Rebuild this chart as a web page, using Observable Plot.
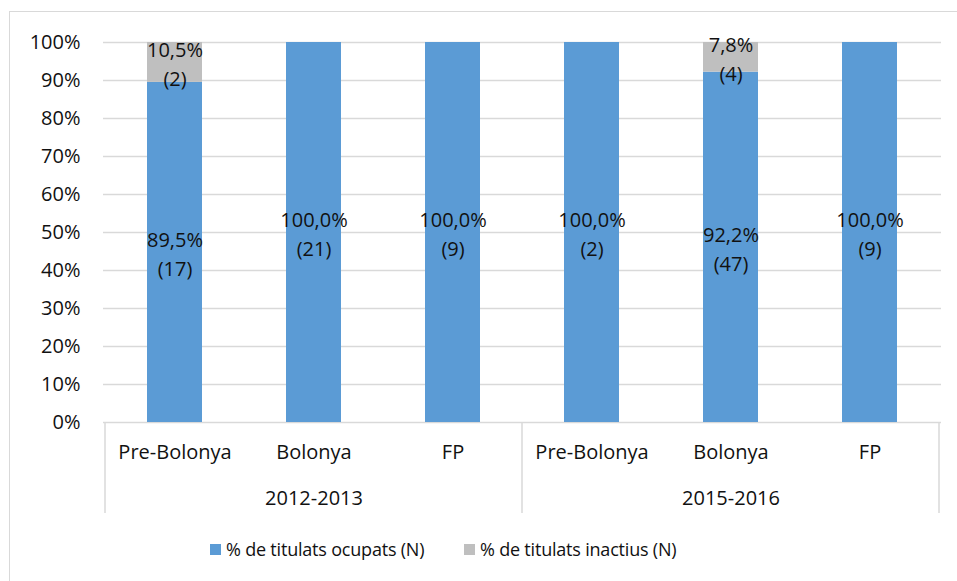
<!DOCTYPE html>
<html>
<head>
<meta charset="utf-8">
<script src="https://cdn.jsdelivr.net/npm/d3@7"></script>
<script src="https://cdn.jsdelivr.net/npm/@observablehq/plot@0.6"></script>
<style>
  html, body { margin: 0; padding: 0; background: #fff; }
  body { width: 957px; height: 581px; position: relative; overflow: hidden; font-family: "Open Sans", sans-serif; }
  #frame { position: absolute; left: 9px; top: 11px; width: 960px; height: 580px; border-left: 1.5px solid #d9d9d9; border-top: 1.5px solid #d9d9d9; }
  #chart { position: absolute; left: 0; top: 0; }
  .leg { position: absolute; top: 537px; font-size: 18px; letter-spacing: -0.2px; color: #111; display: flex; align-items: center; white-space: nowrap; }
  .sw { width: 11px; height: 11px; margin-right: 5px; }
</style>
</head>
<body>
<div id="frame"></div>
<div id="chart"></div>
<div class="leg" style="left:210px"><div class="sw" style="background:#5b9bd5"></div>% de titulats ocupats (N)</div>
<div class="leg" style="left:464px"><div class="sw" style="background:#bfbfbf"></div>% de titulats inactius (N)</div>
<script>
const years = ["2012-2013", "2012-2013", "2012-2013", "2015-2016", "2015-2016", "2015-2016"];
const categories = ["Pre-Bolonya", "Bolonya", "FP", "Pre-Bolonya", "Bolonya", "FP"];
const ocupatsPct = [89.5, 100.0, 100.0, 100.0, 92.2, 100.0];
const ocupatsN = [17, 21, 9, 2, 47, 9];
const inactiusPct = [10.5, 0, 0, 0, 7.8, 0];
const inactiusN = [2, 0, 0, 0, 4, 0];
const seriesNames = ["% de titulats ocupats (N)", "% de titulats inactius (N)"];
const groups = ["2012-2013", "2015-2016"];
const yTicks = [0, 0.1, 0.2, 0.3, 0.4, 0.5, 0.6, 0.7, 0.8, 0.9, 1.0];

const keys = years.map((y, i) => y + "|" + categories[i]);
const rows = [];
keys.forEach((k, i) => {
  rows.push({key: k, series: seriesNames[0], value: ocupatsPct[i] / 100, pct: ocupatsPct[i], n: ocupatsN[i]});
  rows.push({key: k, series: seriesNames[1], value: inactiusPct[i] / 100, pct: inactiusPct[i], n: inactiusN[i]});
});
const shown = rows.filter(d => d.value > 0);
const fmt = v => v.toFixed(1).replace(".", ",") + "%";
const catRows = keys.map((k, i) => ({key: k, label: categories[i]}));
const groupRows = groups.map(g => ({key: g + "|Bolonya", label: g}));

const font = "Open Sans, sans-serif";
const chart = Plot.plot({
  width: 957,
  height: 520,
  marginLeft: 103,
  marginRight: 16,
  marginTop: 42,
  marginBottom: 98,
  style: {fontFamily: font, fontSize: "20px", color: "#111", background: "transparent", overflow: "visible"},
  x: {domain: keys, paddingInner: 0.606, paddingOuter: 0.303, axis: null},
  y: {domain: [0, 1], ticks: yTicks, tickFormat: d3.format(".0%"), tickSize: 0, tickPadding: 23, label: null},
  color: {domain: seriesNames, range: ["#5b9bd5", "#bfbfbf"]},
  marks: [
    Plot.ruleY(yTicks, {stroke: "#d9d9d9", strokeWidth: 1.5}),
    Plot.barY(shown, Plot.stackY({x: "key", y: "value", fill: "series", z: "series", order: seriesNames})),
    Plot.text(shown, Plot.stackY({x: "key", y: "value", z: "series", order: seriesNames,
      text: d => fmt(d.pct) + "\n(" + d.n + ")", lineHeight: 1.45, fill: "#111", fontSize: 20})),
    Plot.text(catRows, {x: "key", y: () => 0, text: "label", dy: 30, fill: "#111", fontSize: 20}),
    Plot.text(groupRows, {x: "key", y: () => 0, text: "label", dy: 76, fill: "#111", fontSize: 20}),
    Plot.axisY({ticks: yTicks, tickFormat: d3.format(".0%"), tickSize: 0, tickPadding: 23, label: null, fontSize: 20, fill: "#111"})
  ]
});
document.getElementById("chart").appendChild(chart);

// group separators on the category axis, placed from the band scale
const sx = chart.scale("x");
const sy = chart.scale("y");
const step = sx.step != null ? sx.step : sx.bandwidth / (1 - 0.606);
const gap = (step - sx.bandwidth) / 2;
const y0 = sy.apply(0);
const seps = [];
groups.forEach(g => {
  const firstKey = keys[years.indexOf(g)];
  seps.push(sx.apply(firstKey) - gap);
});
seps.push(sx.apply(keys[keys.length - 1]) + sx.bandwidth + gap);
d3.select(chart).append("g")
  .selectAll("line").data(seps).join("line")
  .attr("x1", d => d).attr("x2", d => d)
  .attr("y1", y0).attr("y2", y0 + 91)
  .attr("stroke", "#d9d9d9").attr("stroke-width", 1.5);
</script>
</body>
</html>
